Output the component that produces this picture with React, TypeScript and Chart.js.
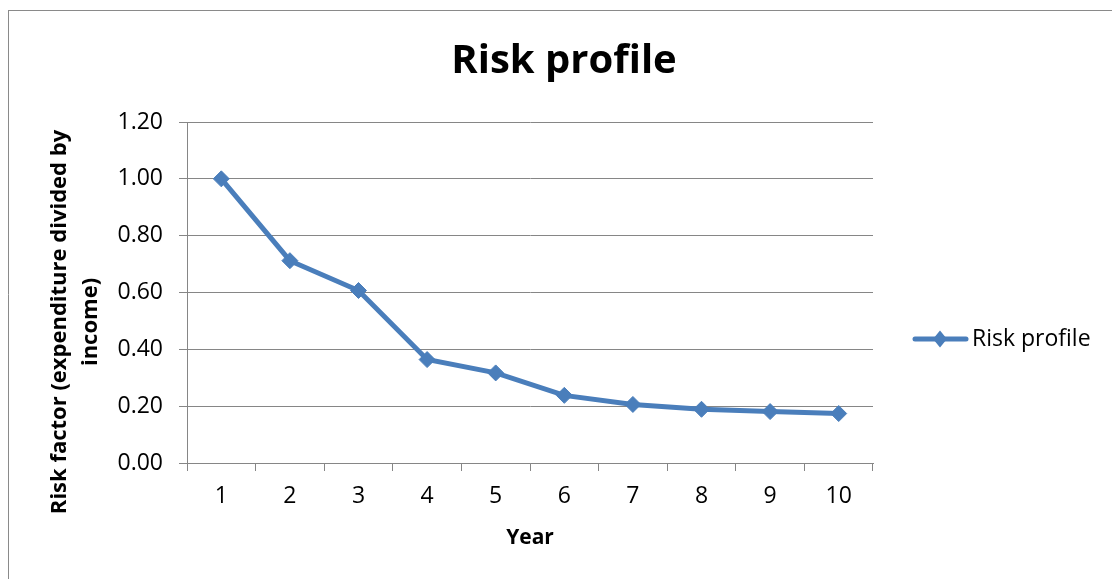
import React, { useEffect, useRef } from "react";
import { Chart, registerables } from "chart.js";

Chart.register(...registerables);

const categories = ["1", "2", "3", "4", "5", "6", "7", "8", "9", "10"];
const riskValues = [1.0, 0.712, 0.607, 0.364, 0.317, 0.238, 0.206, 0.189, 0.181, 0.174];
const seriesName = "Risk profile";
const chartTitle = "Risk profile";
const yTitleLines = ["Risk factor (expenditure divided by", "income)"];
const xTitle = "Year";

const FONT = "'Open Sans', 'DejaVu Sans', sans-serif";
const BLUE = "#4a7ebb";
const GRID = "#868686";

const decorPlugin = {
  id: "decor",
  afterDraw(chart: any) {
    const ctx = chart.ctx as CanvasRenderingContext2D;
    ctx.save();
    // outer chart border (top & left visible)
    ctx.strokeStyle = "#8a8a8a";
    ctx.lineWidth = 1;
    ctx.beginPath();
    ctx.moveTo(8, 10.5);
    ctx.lineTo(1112, 10.5);
    ctx.moveTo(8.5, 10);
    ctx.lineTo(8.5, 579);
    ctx.stroke();

    // title
    ctx.fillStyle = "#000";
    ctx.font = `bold 40px ${FONT}`;
    ctx.textAlign = "center";
    ctx.textBaseline = "middle";
    ctx.fillText(chartTitle, 564, 62);

    // y axis title
    ctx.font = `bold 22px ${FONT}`;
    const xs = [60, 91];
    yTitleLines.forEach((line, i) => {
      ctx.save();
      ctx.translate(xs[i], 322);
      ctx.rotate(-Math.PI / 2);
      ctx.fillText(line, 0, 0);
      ctx.restore();
    });

    // legend
    const ly = 339;
    ctx.strokeStyle = BLUE;
    ctx.lineWidth = 5;
    ctx.lineCap = "round";
    ctx.beginPath();
    ctx.moveTo(915, ly);
    ctx.lineTo(966, ly);
    ctx.stroke();
    ctx.fillStyle = BLUE;
    ctx.beginPath();
    ctx.moveTo(940, ly - 8.5);
    ctx.lineTo(947, ly);
    ctx.lineTo(940, ly + 8.5);
    ctx.lineTo(933, ly);
    ctx.closePath();
    ctx.fill();
    ctx.fillStyle = "#000";
    ctx.font = `23px ${FONT}`;
    ctx.textAlign = "left";
    ctx.fillText(seriesName, 972, ly);
    ctx.restore();
  },
};

export default function App() {
  const ref = useRef<HTMLCanvasElement | null>(null);
  useEffect(() => {
    if (!ref.current) return;
    const chart = new Chart(ref.current, {
      type: "line",
      data: {
        labels: categories,
        datasets: [
          {
            label: seriesName,
            data: riskValues,
            borderColor: BLUE,
            backgroundColor: BLUE,
            borderWidth: 5,
            pointStyle: "rectRot",
            pointRadius: 8,
            pointBorderWidth: 1,
            pointBackgroundColor: BLUE,
            pointBorderColor: BLUE,
            tension: 0,
          },
        ],
      },
      options: {
        responsive: false,
        animation: false,
        layout: { padding: { left: 9, right: 239, top: 122, bottom: 0 } },
        plugins: {
          legend: { display: false },
          title: { display: false },
          tooltip: { enabled: false },
        },
        scales: {
          x: {
            offset: true,
            grid: {
              offset: true,
              drawOnChartArea: false,
              drawTicks: true,
              tickLength: 8,
              color: GRID,
            },
            border: { display: true, color: GRID, width: 1 },
            ticks: {
              color: "#000",
              font: { family: FONT, size: 23 },
              padding: 12,
              maxRotation: 0,
            },
            title: {
              display: true,
              text: xTitle,
              color: "#000",
              font: { family: FONT, size: 21, weight: "bold" },
              padding: { top: 0, bottom: 28 },
            },
            afterFit(scale: any) {
              scale.height = 116;
            },
          },
          y: {
            min: 0,
            max: 1.2,
            grid: { color: GRID, tickLength: 8, drawTicks: true },
            border: { display: true, color: GRID, width: 1 },
            ticks: {
              stepSize: 0.2,
              color: "#000",
              font: { family: FONT, size: 23 },
              padding: 16,
              callback: (v: any) => Number(v).toFixed(2),
            },
            afterFit(scale: any) {
              scale.width = 178;
            },
          },
        },
      },
      plugins: [decorPlugin],
    });
    return () => chart.destroy();
  }, []);
  return (
    <canvas
      ref={ref}
      width={1112}
      height={579}
      style={{ position: "absolute", left: 0, top: 0, width: 1112, height: 579 }}
    />
  );
}
